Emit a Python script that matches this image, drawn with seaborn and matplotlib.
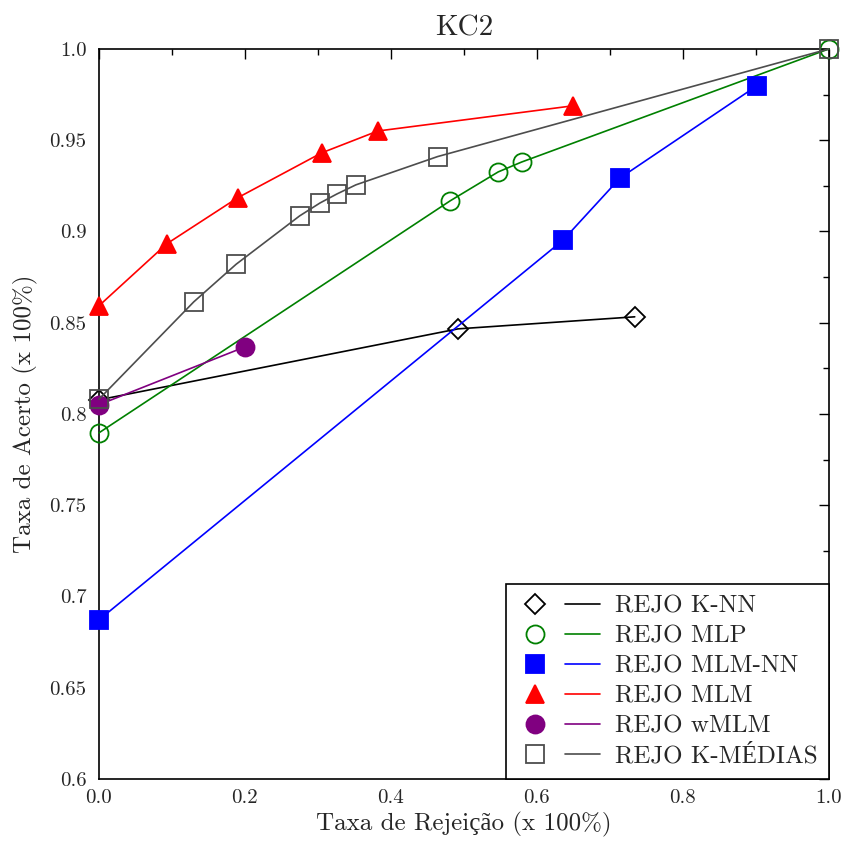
import matplotlib
matplotlib.use('Agg')
import matplotlib.pyplot as plt
import pandas as pd
import seaborn as sns
from matplotlib.lines import Line2D
from matplotlib.legend_handler import HandlerTuple
from matplotlib.ticker import MultipleLocator

# data
knn_x = [0.0, 0.492, 0.734]
knn_y = [0.8077, 0.8466, 0.8532]

mlp_x = [0.0, 0.481, 0.547, 0.579, 1.0]
mlp_y = [0.7896, 0.9167, 0.9326, 0.938, 1.0]

mlmnn_x = [0.0, 0.636, 0.714, 0.901]
mlmnn_y = [0.6871, 0.8953, 0.9293, 0.9797]

mlm_x = [0.0, 0.093, 0.190, 0.305, 0.382, 0.649]
mlm_y = [0.8592, 0.8932, 0.9184, 0.943, 0.955, 0.9688]

wmlm_x = [0.0, 0.200]
wmlm_y = [0.805, 0.8367]

kmed_x = [0.0, 0.130, 0.188, 0.275, 0.303, 0.326, 0.352, 0.464, 1.0]
kmed_y = [0.808, 0.8614, 0.882, 0.9085, 0.9156, 0.9205, 0.9255, 0.941, 1.0]

xticks = [0, 0.2, 0.4, 0.6, 0.8, 1.0]
xtick_labels = ['0.0', '0.2', '0.4', '0.6', '0.8', '1.0']
yticks = [0.6, 0.65, 0.7, 0.75, 0.8, 0.85, 0.9, 0.95, 1.0]
ytick_labels = ['0.6', '0.65', '0.7', '0.75', '0.8', '0.85', '0.9', '0.95', '1.0']

sns.set_style('white')
plt.rcParams['font.family'] = ['cmr10', 'Liberation Serif']
plt.rcParams['mathtext.fontset'] = 'cm'
plt.rcParams['axes.unicode_minus'] = False

fig = plt.figure(figsize=(8.45, 8.43), dpi=100)
ax = fig.add_axes([0.117, 0.076, 0.864, 0.866])

series = [
    ('REJO K-NN', knn_x, knn_y, 'black', 'D', 'none', 10),
    ('REJO MLP', mlp_x, mlp_y, 'green', 'o', 'none', 13),
    ('REJO MLM-NN', mlmnn_x, mlmnn_y, 'blue', 's', 'blue', 13),
    ('REJO MLM', mlm_x, mlm_y, 'red', '^', 'red', 13),
    ('REJO wMLM', wmlm_x, wmlm_y, 'purple', 'o', 'purple', 13),
    ('REJO K-MÉDIAS', kmed_x, kmed_y, '#4d4d4d', 's', 'none', 13),
]

handles = []
for name, xs, ys, col, mk, fc, ms in series:
    df = pd.DataFrame({'x': xs, 'y': ys})
    sns.lineplot(data=df, x='x', y='y', ax=ax, sort=False, estimator=None,
                 color=col, linewidth=1.2, marker=mk, markersize=ms,
                 markerfacecolor=fc, markeredgecolor=col, markeredgewidth=1.3,
                 clip_on=False, zorder=3)
    h_mk = Line2D([], [], linestyle='none', marker=mk, markersize=ms,
                  markerfacecolor=fc, markeredgecolor=col, markeredgewidth=1.3)
    h_ln = Line2D([], [], color=col, linewidth=1.2)
    handles.append((h_mk, h_ln))

ax.set_xlim(0, 1)
ax.set_ylim(0.6, 1.0)
ax.set_xticks(xticks)
ax.set_xticklabels(xtick_labels)
ax.set_yticks(yticks)
ax.set_yticklabels(ytick_labels)
ax.xaxis.set_minor_locator(MultipleLocator(0.1))
ax.yaxis.set_minor_locator(MultipleLocator(0.025))
ax.tick_params(which='both', direction='in', top=True, right=True,
               labelsize=15, color='black')
ax.tick_params(which='major', length=7, width=1)
ax.tick_params(which='minor', length=4, width=1)
ax.tick_params(axis='y', which='both', pad=9)
ax.tick_params(axis='x', which='both', pad=7)
for s in ax.spines.values():
    s.set_color('black')
    s.set_linewidth(1.2)

ax.set_xlabel('Taxa de Rejeição (x 100%)', fontsize=18, labelpad=4)
ax.set_ylabel('Taxa de Acerto (x 100%)', fontsize=18, labelpad=8)
ax.set_title('KC2', fontsize=21, pad=10)

leg = ax.legend(handles, [s[0] for s in series], loc='lower right',
                handler_map={tuple: HandlerTuple(ndivide=None, pad=0.5)},
                handlelength=3.3, fontsize=18, frameon=True, fancybox=False,
                edgecolor='black', framealpha=1, borderaxespad=0,
                labelspacing=0.3, borderpad=0.45, handletextpad=0.6)
leg.get_frame().set_linewidth(1.2)
leg.set_zorder(5)

fig.savefig('out.png', dpi=100)
